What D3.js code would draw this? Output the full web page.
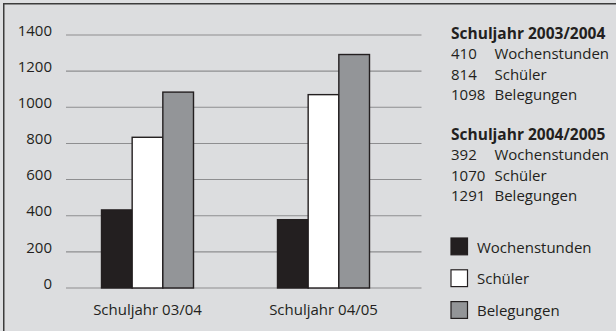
<!DOCTYPE html>
<html>
<head>
<meta charset="utf-8">
<script src="https://cdn.jsdelivr.net/npm/d3@7"></script>
<style>
  html, body { margin: 0; padding: 0; background: #dedfe1; }
  svg { display: block; }
  text { font-family: "Open Sans", "Noto Sans", sans-serif; fill: #231f20; }
</style>
</head>
<body>
<svg id="chart" width="616" height="331"></svg>
<script>
// ---- data ----
const categories = ["Schuljahr 03/04", "Schuljahr 04/05"];
const series = ["Wochenstunden", "Schüler", "Belegungen"];
// bar heights as drawn in the picture
const wochenstunden = [432, 378];
const schueler = [834, 1070];
const belegungen = [1084, 1292];
const yTicks = [0, 200, 400, 600, 800, 1000, 1200, 1400];
// text block values
const blockTitles = ["Schuljahr 2003/2004", "Schuljahr 2004/2005"];
const block1 = [410, 814, 1098];
const block2 = [392, 1070, 1291];
const colors = ["#231f20", "#ffffff", "#939598"];

const values = [wochenstunden, schueler, belegungen];
const svg = d3.select("#chart");

// background + frame
svg.append("rect").attr("x", 0).attr("y", 0).attr("width", 616).attr("height", 331).attr("fill", "#dedfe1");
svg.append("rect").attr("x", 3.75).attr("y", 3.75).attr("width", 640).attr("height", 360)
  .attr("fill", "#dcdddf").attr("stroke", "#3c3c3c").attr("stroke-width", 1.5);

const y = d3.scaleLinear().domain([0, 1400]).range([288, 35]);
const x0 = d3.scaleBand().domain(categories).range([59.5, 411.5]).padding(0);
const x1 = d3.scaleBand().domain(series).range([-46, 46]).padding(0);

// gridlines
svg.append("g").selectAll("line").data(yTicks).join("line")
  .attr("x1", 66).attr("x2", 421.5)
  .attr("y1", d => y(d)).attr("y2", d => y(d))
  .attr("stroke", "#8e8e90").attr("stroke-width", 1.1);

// y tick labels
svg.append("g").selectAll("text").data(yTicks).join("text")
  .attr("x", 52).attr("y", d => y(d) + 0.7)
  .attr("text-anchor", "end").attr("font-size", 15)
  .text(d => d);

// bars
const groups = svg.append("g").selectAll("g").data(categories).join("g")
  .attr("transform", c => `translate(${x0(c) + x0.bandwidth() / 2},0)`);
groups.selectAll("rect").data((c, ci) => series.map((s, si) => ({ s, si, v: values[si][ci] })))
  .join("rect")
  .attr("x", d => x1(d.s))
  .attr("width", x1.bandwidth())
  .attr("y", d => y(d.v))
  .attr("height", d => y(0) - y(d.v))
  .attr("fill", d => colors[d.si])
  .attr("stroke", "#231f20").attr("stroke-width", 1.4);

// category labels
svg.append("g").selectAll("text").data(categories).join("text")
  .attr("x", c => x0(c) + x0.bandwidth() / 2).attr("y", 315)
  .attr("text-anchor", "middle").attr("font-size", 15)
  .text(c => c);

// text blocks
const blocks = [block1, block2];
const blockTop = [38.7, 139.5];
blocks.forEach((b, bi) => {
  const g = svg.append("g");
  g.append("text").attr("x", 451).attr("y", blockTop[bi])
    .attr("font-size", 15.5).attr("font-weight", "bold").text(blockTitles[bi]);
  g.selectAll("text.num").data(b).join("text").attr("class", "num")
    .attr("x", 451).attr("y", (d, i) => blockTop[bi] + 20.5 * (i + 1))
    .attr("font-size", 15).text(d => d);
  g.selectAll("text.lab").data(series).join("text").attr("class", "lab")
    .attr("x", 494.5).attr("y", (d, i) => blockTop[bi] + 20.5 * (i + 1))
    .attr("font-size", 15).text(d => d);
});

// legend
const leg = svg.append("g").selectAll("g").data(series).join("g")
  .attr("transform", (d, i) => `translate(451,${238 + i * 31.8})`);
leg.append("rect").attr("x", 0).attr("y", 0).attr("width", 16.5).attr("height", 16.8)
  .attr("fill", (d, i) => colors[i]).attr("stroke", "#231f20").attr("stroke-width", 1.2);
leg.append("text").attr("x", 26).attr("y", 14.5).attr("font-size", 15).text(d => d);
</script>
</body>
</html>
